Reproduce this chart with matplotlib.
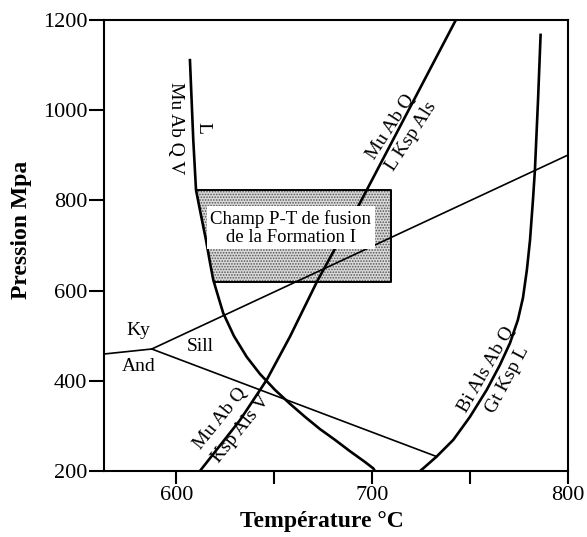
import numpy as np
import matplotlib
matplotlib.use("Agg")
import matplotlib.pyplot as plt

plt.rcParams['font.family'] = ['Liberation Serif', 'DejaVu Serif']
plt.rcParams['hatch.linewidth'] = 0.8

# --- Data (T in °C, P in MPa) ---
# Wet solidus: Mu Ab Q V = L
sol_T = [606.9, 608.6, 610.0, 612.5, 615.1, 617.1, 618.8, 621.4, 623.9, 629.4, 635.9,
         642.7, 650.3, 658.0, 665.7, 673.3, 681.0, 688.6, 696.3, 700.5, 701.4]
sol_P = [1111, 934, 823, 768, 712, 663, 624, 586, 550, 499, 453,
         415, 380, 349, 320, 293, 269, 244, 220, 206, 200]

# Muscovite dehydration melting: Mu Ab Q = L Ksp Als / Ksp Als V
mu_T = [612.0, 632.5, 646.1, 658.0, 671.8, 693.7, 742.7]
mu_P = [200, 313, 402, 498, 620, 794, 1200]

# Biotite melting: Bi Als Ab Q = Gt Ksp L
bi_T = [724.4, 726.1, 732.9, 741.4, 749.9, 758.5, 765.2, 770.4, 774.4, 777.0,
        779.0, 780.6, 782.1, 783.1, 784.7, 786.0]
bi_P = [200, 206, 232, 269, 320, 380, 435, 484, 535, 584,
        646, 712, 801, 867, 1023, 1167]

# Aluminosilicate triple point and boundaries
kysill_T = [587.4, 800.0]
kysill_P = [470.5, 900.6]
kyand_T = [563.0, 587.4]
kyand_P = [459.4, 470.5]
andsill_T = [587.4, 732.9]
andsill_P = [470.5, 232.0]

# P-T melting field of Formation I
box_T = [610.0, 709.6]
box_P = [618.0, 823.0]

x_ticks = [600, 650, 700, 750, 800]
x_ticklabels = ['600', '', '700', '', '800']
y_ticks = [200, 400, 600, 800, 1000, 1200]
y_ticklabels = ['200', '400', '600', '800', '1000', '1200']

fig = plt.figure(figsize=(5.87, 5.37), dpi=100)
ax = fig.add_axes([104/587, 1-471/537, 464/587, 451/537])
ax.set_xlim(563, 800)
ax.set_ylim(200, 1200)

# stippled field, left side following the solidus
sT = np.array(sol_T); sP = np.array(sol_P)
order = np.argsort(sP)
Pgrid = sorted([p for p in sol_P if box_P[0] < p < box_P[1]])
left_T_bot = np.interp(box_P[0], sP[order], sT[order])
left_T_top = np.interp(box_P[1], sP[order], sT[order])
polyT = [left_T_bot, box_T[1], box_T[1], left_T_top] + [np.interp(p, sP[order], sT[order]) for p in Pgrid[::-1]]
polyP = [box_P[0], box_P[0], box_P[1], box_P[1]] + Pgrid[::-1]
ax.fill(polyT, polyP, facecolor='#dadada', edgecolor='#555555', hatch='......', linewidth=0, zorder=1)
ax.plot([left_T_top, box_T[1], box_T[1], left_T_bot], [box_P[1], box_P[1], box_P[0], box_P[0]],
        color='black', lw=1.4, zorder=2)

thick = 1.9
thin = 1.2
ax.plot(sol_T, sol_P, color='black', lw=thick, zorder=3)
ax.plot(mu_T, mu_P, color='black', lw=thick, zorder=3)
ax.plot(bi_T, bi_P, color='black', lw=thick, zorder=3)
ax.plot(kysill_T, kysill_P, color='black', lw=thin, zorder=3)
ax.plot(kyand_T, kyand_P, color='black', lw=thin, zorder=3)
ax.plot(andsill_T, andsill_P, color='black', lw=thin, zorder=3)

fs = 14
ax.text(599.3, 960, 'Mu Ab Q V', rotation=270, fontsize=fs, ha='center', va='center')
ax.text(613.3, 961, 'L', rotation=270, fontsize=fs, ha='center', va='center')
ax.text(709.6, 963, 'Mu Ab Q', rotation=57, fontsize=fs, ha='center', va='center', rotation_mode='anchor')
ax.text(719.8, 941, 'L Ksp Als', rotation=57, fontsize=fs, ha='center', va='center', rotation_mode='anchor')
ax.text(622.5, 316, 'Mu Ab Q', rotation=51, fontsize=fs, ha='center', va='center', rotation_mode='anchor')
ax.text(633.0, 293, 'Ksp Als V', rotation=51, fontsize=fs, ha='center', va='center', rotation_mode='anchor')
ax.text(758.4, 424, 'Bi Als Ab Q', rotation=60, fontsize=fs, ha='center', va='center', rotation_mode='anchor')
ax.text(769.0, 403, 'Gt Ksp L', rotation=62, fontsize=fs, ha='center', va='center', rotation_mode='anchor')
ax.text(580.5, 512, 'Ky', fontsize=fs, ha='center', va='center')
ax.text(580.5, 431, 'And', fontsize=fs, ha='center', va='center')
ax.text(612.0, 475, 'Sill', fontsize=fs, ha='center', va='center')
ax.text(658.5, 739, 'Champ P-T de fusion\nde la Formation I', fontsize=13.5, ha='center', va='center',
        linespacing=1.05, zorder=5,
        bbox=dict(boxstyle='square,pad=0.2', facecolor='white', edgecolor='none'))

for s in ax.spines.values():
    s.set_linewidth(1.5)
ax.set_xticks(x_ticks)
ax.set_xticklabels(x_ticklabels)
ax.set_yticks(y_ticks)
ax.set_yticklabels(y_ticklabels)
ax.tick_params(axis='x', direction='out', length=9, width=1.5, labelsize=16, pad=2)
ax.tick_params(axis='y', direction='out', length=11, width=1.5, labelsize=16, pad=1)

ax.set_xlabel('Température °C', fontsize=17, fontweight='bold')
ax.set_ylabel('Pression Mpa', fontsize=17, fontweight='bold')
ax.xaxis.set_label_coords(0.47, -0.088)
ax.yaxis.set_label_coords(-0.155, 0.534)

fig.savefig('out.png', dpi=100)
